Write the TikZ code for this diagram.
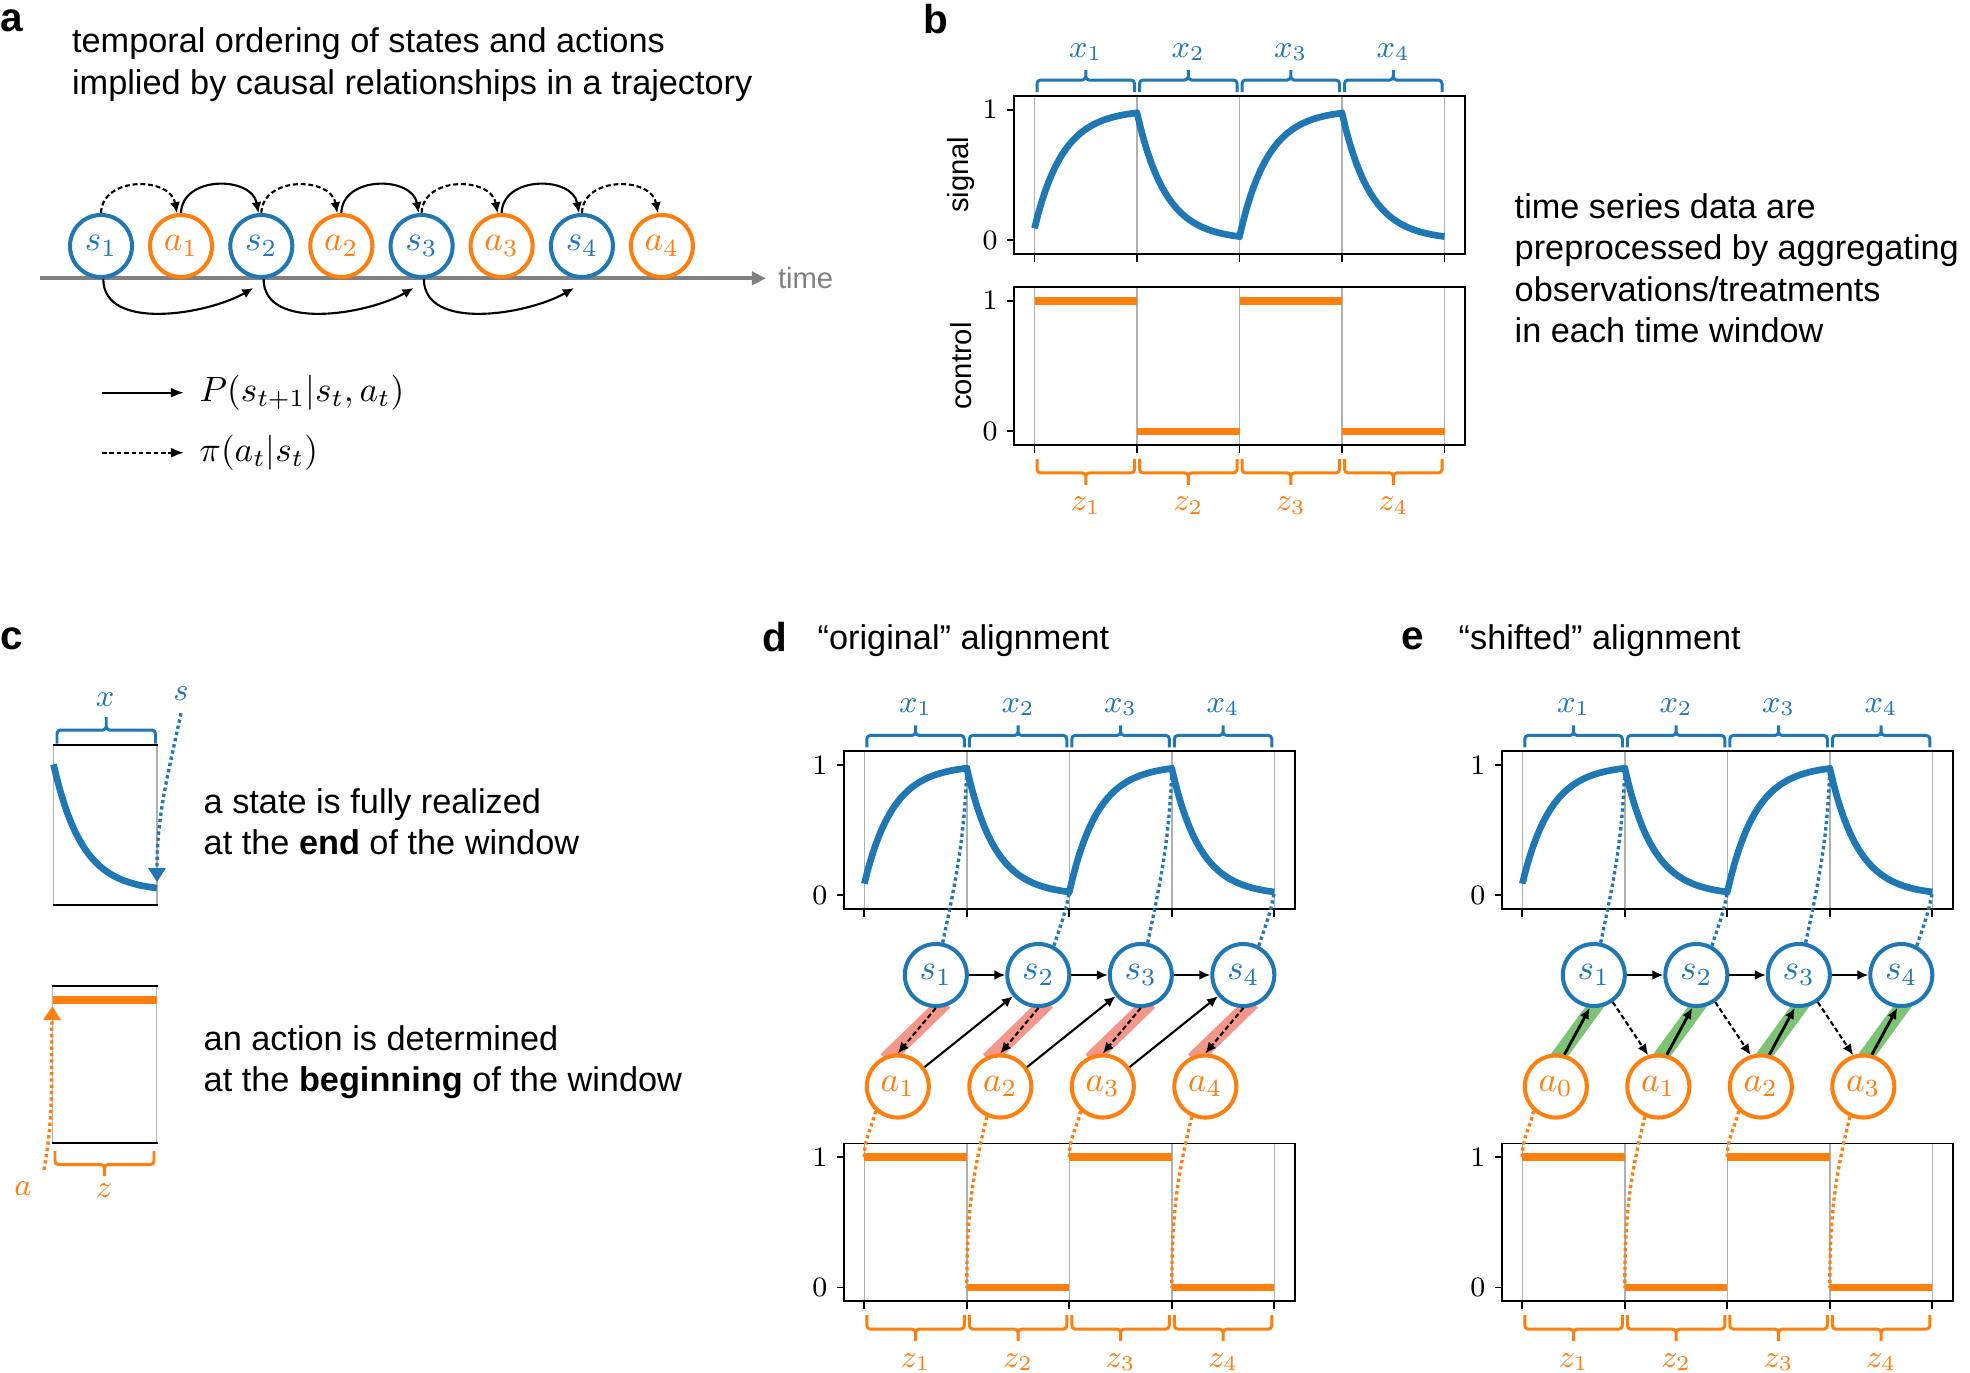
\documentclass[tikz,border=0pt]{standalone}
\usepackage{fontspec}
\setmainfont{Liberation Sans}
\usetikzlibrary{arrows.meta,positioning,calc,backgrounds}
\definecolor{tabblue}{RGB}{31,119,180}
\definecolor{taborange}{RGB}{255,127,14}
\definecolor{gridgray}{RGB}{176,176,176}
\definecolor{axgray}{RGB}{128,128,128}
\definecolor{hlred}{RGB}{245,150,138}
\definecolor{hlgreen}{RGB}{124,196,116}
% one window brace: colour, x0, x1, y of ends, y of bar, y of tip
\newcommand{\wbr}[6]{%
  \draw[brc,#1] ({#2},{#4}) -- ({#2},{#5}) -- ({((#2)+(#3))/2},{#5}) -- ({((#2)+(#3))/2},{#6})
    ({#3},{#4}) -- ({#3},{#5}) -- ({((#2)+(#3))/2},{#5}) -- ({((#2)+(#3))/2},{#6});}
% axes box, origin = first grid line at value 0
\newcommand{\axbox}{%
  \foreach \k in {0,...,4} {
    \draw[gline] (\k*\ww,-13.6) -- (\k*\ww,\hh+13.6);
    \draw[spine] (\k*\ww,-13.6) -- (\k*\ww,-21.6);}
  \draw[spine] (-20.5,-13.6) rectangle (4*\ww+20.5,\hh+13.6);
  \foreach \v in {0,1} {
    \draw[spine] (-20.5,\v*\hh) -- (-27.5,\v*\hh);
    \node[ticklbl] (tk\v) at (-44.5,\v*\hh) {$\v$};}}
\newcommand{\sigline}[1]{%
  \draw[sigcrv] plot[domain=0:1, samples=30] ({\x*\ww},{\hh*(1-0.91*exp(-3.6*\x))})
    -- plot[domain=0:1, samples=30] ({(1+\x)*\ww},{\hh*0.975*exp(-3.6*\x)})
    -- plot[domain=0:1, samples=30] ({(2+\x)*\ww},{\hh*(1-0.973*exp(-3.6*\x))})
    -- plot[domain=0:1, samples=30] ({(3+\x)*\ww},{\hh*0.973*exp(-3.6*\x)});
  \coordinate (#1p1) at (\ww,0.975*\hh);
  \coordinate (#1p2) at (2*\ww,0.0266*\hh);
  \coordinate (#1p3) at (3*\ww,0.9734*\hh);
  \coordinate (#1p4) at (4*\ww,0.0266*\hh);}
\newcommand{\ctrlbars}[1]{%
  \draw[ctrl] (0,\hh) -- (\ww,\hh) (\ww,0) -- (2*\ww,0) (2*\ww,\hh) -- (3*\ww,\hh) (3*\ww,0) -- (4*\ww,0);
  \coordinate (#1q1) at (0,\hh);
  \coordinate (#1q2) at (\ww,0);
  \coordinate (#1q3) at (2*\ww,\hh);
  \coordinate (#1q4) at (3*\ww,0);}
\newcommand{\xbraces}[1]{%
  \foreach \k in {1,...,4} {
    \wbr{tabblue}{(\k-1)*\ww+2.5}{\k*\ww-2.5}{\hh+17.6}{\hh+29.6}{\hh+39.6}
    \node[mlab, text=tabblue] (#1x\k) at ({(\k-0.5)*\ww},{\hh+57.6}) {$x_\k$};}}
\newcommand{\zbraces}[1]{%
  \foreach \k in {1,...,4} {
    \wbr{taborange}{(\k-1)*\ww+2.5}{\k*\ww-2.5}{-27.6}{-41.6}{-53.6}
    \node[mlab, text=taborange] (#1z\k) at ({(\k-0.5)*\ww},-74.6) {$z_\k$};}}
\tikzset{
  snode/.style={circle, draw=tabblue, fill=white, line width=1.15pt, minimum size=0.62cm,
    inner sep=0pt, text=tabblue, font=\fontsize{9.8}{11}\selectfont},
  anode/.style={snode, draw=taborange, text=taborange},
  tr/.style={-{Latex[length=1.1mm,width=1mm]}, line width=0.6pt},
  polarr/.style={tr, dash pattern=on 1.4pt off 0.8pt},
  legarr/.style={-{Latex[length=1.3mm,width=1mm]}, line width=0.6pt},
  sdot/.style={tabblue, line width=0.95pt, dash pattern=on 0.95pt off 0.85pt},
  adot/.style={sdot, taborange},
  bigtip/.style={-{Triangle[length=1.4mm,width=1.7mm]}},
  hlr/.style={hlred, line width=4.3pt, shorten <=-0.8mm, shorten >=-0.8mm},
  hlg/.style={hlr, hlgreen},
  gline/.style={gridgray, line width=0.4pt},
  spine/.style={black, line width=0.55pt},
  sigcrv/.style={tabblue, line width=1.9pt},
  ctrl/.style={taborange, line width=2.1pt},
  brc/.style={line width=0.85pt, rounded corners=0.35mm},
  timeax/.style={axgray, line width=1.15pt, -{Triangle[length=1.4mm,width=1.3mm]}},
  mlab/.style={font=\fontsize{9.2}{10}\selectfont},
  ticklbl/.style={font=\fontsize{7.6}{8}\selectfont, inner sep=0pt},
  axlbl/.style={font=\fontsize{8.3}{10}\selectfont, inner sep=0pt},
  timelbl/.style={axlbl, text=axgray, anchor=west, outer sep=0pt},
  leg/.style={font=\fontsize{10}{12}\selectfont, anchor=west, inner sep=0pt},
  plab/.style={font=\fontsize{11.5}{13}\selectfont\bfseries, anchor=base west, inner sep=0pt},
  txt/.style={align=left, anchor=base west, inner sep=0pt},
}
\begin{document}
\begin{tikzpicture}[x=0.01cm, y=0.01cm, font=\fontsize{9.75}{11.75}\selectfont]
\def\ww{102.5} \def\hh{130.4}
\useasboundingbox (0,0) rectangle (1970,-1372);

% ---------- a
\node[plab] (la) at (0,-31.7) {a};
\node[txt] (atitle) at (71.4,-94.3) {temporal ordering of states and actions\\implied by causal relationships in a trajectory};
\foreach \i in {1,...,4} {
  \node[snode] (as\i) at ({101+160.3*(\i-1)},-246) {$s_\i$};
  \node[anode] (aa\i) at ({181+160.3*(\i-1)},-246) {$a_\i$};}
\node[timelbl] (time) at (778,-278.3) {time};
\coordinate (t0) at (40,-278.3);
\begin{scope}[on background layer]
  \draw[timeax] (t0) -- ([xshift=-0.12cm]time.west);
\end{scope}
\foreach \i [count=\j from 2] in {1,2,3} {
  \draw[polarr] (as\i.north) to[out=88,in=100,looseness=1.25] (aa\i.97);
  \draw[tr] (aa\i.north) to[out=88,in=100,looseness=1.25] (as\j.95);
  \draw[tr] (as\i.-86) to[out=-90,in=210,looseness=0.9] ([xshift=-0.08cm,yshift=-0.09cm]as\j.south);}
\draw[polarr] (as4.north) to[out=88,in=100,looseness=1.25] (aa4.97);
\coordinate (lg1) at (102,-392.7);
\coordinate (lg2) at (102,-452.7);
\node[leg] (legP) at (199,-392.7) {$P(s_{t+1}|s_t,a_t)$};
\node[leg] (legpi) at (199,-452.7) {$\pi(a_t|s_t)$};
\draw[legarr] (lg1) -- ([xshift=-0.15cm]legP.west);
\draw[legarr, dash pattern=on 1.3pt off 0.8pt] (lg2) -- ([xshift=-0.15cm]legpi.west);

% ---------- b
\node[plab] (lb) at (923,-33.7) {b};
\begin{scope}[shift={(1034.5,-240)}]
  \axbox \sigline{b} \xbraces{b}
  \node[axlbl, rotate=90] (lsig) at (-73.5,{\hh/2}) {signal};
\end{scope}
\begin{scope}[shift={(1034.5,-431.3)}]
  \axbox \ctrlbars{b} \zbraces{b}
  \node[axlbl, rotate=90] (lctl) at (-73.5,{\hh/2}) {control};
\end{scope}
\node[txt] (btext) at (1514,-342.5) {time series data are\\preprocessed by aggregating\\observations/treatments\\in each time window};

% ---------- c
\node[plab] (lc) at (0,-649.7) {c};
\draw[gline] (53.5,-744.7) -- (53.5,-905) (157,-744.7) -- (157,-905);
\draw[spine] (52.5,-744.7) -- (158,-744.7) (52.5,-905) -- (158,-905);
\draw[sigcrv] plot[domain=0:1, samples=30] ({53.5+\x*103.5},{-891.5+\hh*0.975*exp(-3.6*\x)});
\coordinate (cs) at (157,-882);
\node[mlab, text=tabblue] (cx) at (105,-700) {$x$};
\node[mlab, text=tabblue] (cslab) at (181,-694) {$s$};
\wbr{tabblue}{57}{155.5}{-743.5}{-730}{-717}
\draw[sdot, bigtip] (cslab.south) to[out=-102,in=90] (cs);
\node[txt] (ctext1) at (203,-854.5) {a state is fully realized\\at the \textbf{end} of the window};
\draw[gline] (52.5,-985.8) -- (52.5,-1143.4) (156.5,-985.8) -- (156.5,-1143.4);
\draw[spine] (51.5,-985.8) -- (157.5,-985.8) (51.5,-1143.4) -- (157.5,-1143.4);
\draw[ctrl] (52.5,-1000) -- (156.5,-1000);
\coordinate (ca) at (52.5,-1006);
\node[mlab, text=taborange] (calab) at (23,-1189) {$a$};
\node[mlab, text=taborange] (cz) at (104,-1191) {$z$};
\wbr{taborange}{55}{154}{-1151}{-1164.5}{-1176}
\draw[adot, bigtip] (calab.north east) to[out=80,in=-92] (ca);
\node[txt] (ctext2) at (203,-1091.8) {an action is determined\\at the \textbf{beginning} of the window};

% ---------- d
\node[plab] (ld) at (762,-651) {d};
\node[txt] (dtitle) at (817,-649) {``original'' alignment};
\begin{scope}[shift={(864.3,0)}]
  \begin{scope}[shift={(0,-895.4)}] \axbox \sigline{d} \xbraces{d} \end{scope}
  \begin{scope}[shift={(0,-1287.5)}] \axbox \ctrlbars{d} \zbraces{d} \end{scope}
  \foreach \i in {1,...,4} {
    \node[snode] (ds\i) at ({71.5+(\i-1)*\ww},-975) {$s_\i$};
    \node[anode] (da\i) at ({33.5+(\i-1)*\ww},-1086.5) {$a_\i$};}
\end{scope}
\foreach \i [count=\j from 2] in {1,2,3} {
  \draw[tr] (ds\i) -- (ds\j);
  \draw[tr] (da\i.36) -- (ds\j.220);}
\foreach \i in {1,...,4} {
  \begin{scope}[on background layer]
    \draw[hlr] (ds\i.-84) -- (da\i.101);
  \end{scope}
  \draw[polarr] (ds\i.south) -- (da\i.north);}
\foreach \i/\st/\oo/\ii in {1/78/78/-92, 2/62/72/-100, 3/78/78/-92, 4/62/72/-100}
  \draw[sdot] (ds\i.\st) to[out=\oo,in=\ii] (dp\i);
\foreach \i/\st in {1/228, 2/246, 3/228, 4/246}
  \draw[adot] (da\i.\st) to[out=256,in=90] (dq\i);

% ---------- e
\node[plab] (le) at (1401,-649) {e};
\node[txt] (etitle) at (1458,-649) {``shifted'' alignment};
\begin{scope}[shift={(1522.3,0)}]
  \begin{scope}[shift={(0,-895.4)}] \axbox \sigline{e} \xbraces{e} \end{scope}
  \begin{scope}[shift={(0,-1287.5)}] \axbox \ctrlbars{e} \zbraces{e} \end{scope}
  \foreach \i [count=\m from 0] in {1,...,4} {
    \node[snode] (es\i) at ({71.5+(\i-1)*\ww},-975) {$s_\i$};
    \node[anode] (ea\i) at ({33.5+(\i-1)*\ww},-1086.5) {$a_\m$};}
\end{scope}
\foreach \i [count=\j from 2] in {1,2,3} {
  \draw[tr] (es\i) -- (es\j);
  \draw[polarr] (es\i.305) -- (ea\j.108);}
\foreach \i in {1,...,4} {
  \begin{scope}[on background layer]
    \draw[hlg] (ea\i.82) -- (es\i.270);
  \end{scope}
  \draw[tr, line width=0.8pt] (ea\i.75) -- (es\i.263);}
\foreach \i/\st/\oo/\ii in {1/78/78/-92, 2/62/72/-100, 3/78/78/-92, 4/62/72/-100}
  \draw[sdot] (es\i.\st) to[out=\oo,in=\ii] (ep\i);
\foreach \i/\st in {1/228, 2/246, 3/228, 4/246}
  \draw[adot] (ea\i.\st) to[out=256,in=90] (eq\i);
\end{tikzpicture}
\end{document}
